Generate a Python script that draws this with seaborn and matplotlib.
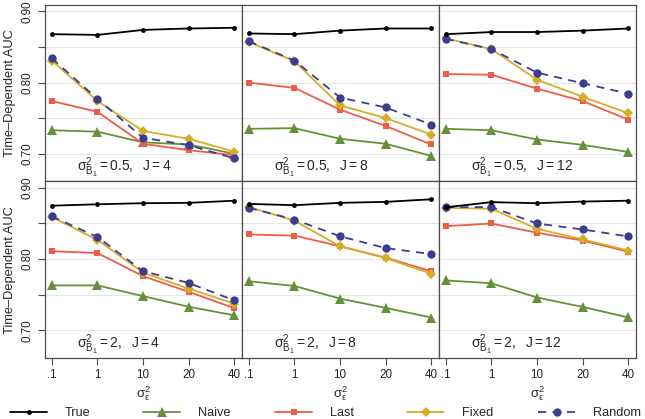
import numpy as np
import pandas as pd
import matplotlib
matplotlib.use("Agg")
import matplotlib.pyplot as plt
import seaborn as sns
from matplotlib.lines import Line2D

sns.set_theme(style="white")
plt.rcParams.update({
    "font.family": ["Liberation Sans", "DejaVu Sans"],
    "mathtext.fontset": "custom",
    "mathtext.rm": "Liberation Sans",
    "mathtext.it": "Liberation Sans:italic",
    "mathtext.default": "regular",
})

# data: one list per panel (row 1: sigma_B1^2 = 0.5, row 2: sigma_B1^2 = 2; columns J = 4, 8, 12)
sigma_eps = [".1", "1", "10", "20", "40"]
sigma_b = ["0.5", "0.5", "0.5", "2", "2", "2"]
n_obs = [4, 8, 12, 4, 8, 12]

auc_true = [
    [0.868, 0.867, 0.874, 0.876, 0.877],
    [0.869, 0.868, 0.873, 0.876, 0.876],
    [0.868, 0.871, 0.871, 0.873, 0.876],
    [0.875, 0.877, 0.8785, 0.879, 0.882],
    [0.8775, 0.8757, 0.879, 0.8804, 0.884],
    [0.8728, 0.880, 0.8785, 0.8808, 0.882],
]
auc_naive = [
    [0.733, 0.731, 0.716, 0.713, 0.700],
    [0.735, 0.736, 0.721, 0.714, 0.697],
    [0.735, 0.733, 0.720, 0.7125, 0.7025],
    [0.763, 0.763, 0.748, 0.733, 0.721],
    [0.7688, 0.7622, 0.7445, 0.7314, 0.7179],
    [0.770, 0.766, 0.746, 0.7328, 0.718],
]
auc_last = [
    [0.774, 0.759, 0.714, 0.705, 0.698],
    [0.800, 0.7925, 0.762, 0.739, 0.713],
    [0.812, 0.811, 0.7915, 0.774, 0.748],
    [0.811, 0.8085, 0.776, 0.754, 0.731],
    [0.8346, 0.833, 0.818, 0.802, 0.7828],
    [0.8462, 0.850, 0.837, 0.826, 0.8104],
]
auc_fixed = [
    [0.831, 0.774, 0.732, 0.721, 0.703],
    [0.857, 0.830, 0.768, 0.750, 0.727],
    [0.862, 0.847, 0.804, 0.780, 0.757],
    [0.859, 0.827, 0.781, 0.7585, 0.7375],
    [0.873, 0.854, 0.818, 0.8014, 0.7795],
    [0.872, 0.8706, 0.8426, 0.8276, 0.812],
]
auc_random = [
    [0.834, 0.777, 0.7225, 0.712, 0.6935],
    [0.858, 0.831, 0.779, 0.765, 0.741],
    [0.8615, 0.847, 0.814, 0.799, 0.7845],
    [0.860, 0.831, 0.783, 0.7664, 0.742],
    [0.872, 0.8556, 0.832, 0.8154, 0.807],
    [0.873, 0.873, 0.850, 0.8416, 0.8318],
]

methods = ["True", "Naive", "Last", "Fixed", "Random"]
series = {"True": auc_true, "Naive": auc_naive, "Last": auc_last,
          "Fixed": auc_fixed, "Random": auc_random}

styles = {
    "Naive":  dict(color="#66913A", marker="^", ms=6.5, ls="-"),
    "Last":   dict(color="#EE5D48", marker="s", ms=5.0, ls="-"),
    "Fixed":  dict(color="#D4AE28", marker="D", ms=5.0, ls="-"),
    "Random": dict(color="#3D3D90", marker="o", ms=6.0, ls=(0, (4.5, 3.5))),
    "True":   dict(color="black", marker="o", ms=3.5, ls="-"),
}
draw_order = ["Naive", "Last", "Fixed", "Random", "True"]

fig, axes = plt.subplots(2, 3, figsize=(6.45, 4.19), dpi=100, sharex=True, sharey=True)
fig.subplots_adjust(left=45 / 645, right=636 / 645, top=1 - 5 / 419,
                    bottom=1 - 358 / 419, wspace=0, hspace=0)

xpos = np.arange(len(sigma_eps))
frame_col = "#4d4d4d"

for i, ax in enumerate(axes.flat):
    for m in draw_order:
        st = styles[m]
        sns.lineplot(x=xpos, y=series[m][i], ax=ax, color=st["color"],
                     marker=st["marker"], markersize=st["ms"], linestyle=st["ls"],
                     linewidth=1.3, markeredgecolor=st["color"], markeredgewidth=0,
                     legend=False)
    ax.set_xlim(-0.15, 4.17)
    ax.set_ylim(0.661, 0.909)
    ax.set_xticks(xpos)
    ax.set_yticks([0.70, 0.75, 0.80, 0.85, 0.90])
    ax.grid(axis="y", color="#e6e6e6", linewidth=0.8)
    ax.set_axisbelow(True)
    for sp in ax.spines.values():
        sp.set_color(frame_col)
        sp.set_linewidth(0.9)
    ax.text(0.16, 0.055,
            r"$\sigma^2_{B_1} = %s,\ \ J = %d$" % (sigma_b[i], n_obs[i]),
            transform=ax.transAxes, fontsize=10, va="baseline", ha="left")
    ax.set_xlabel("")
    ax.set_ylabel("")
    row, col = divmod(i, 3)
    ax.tick_params(axis="both", which="both", left=False, bottom=False,
                   labelleft=False, labelbottom=False)
    if col == 0:
        ax.tick_params(axis="y", left=True, length=5, width=0.8, color=frame_col,
                       direction="out", labelleft=True, labelsize=8.4, pad=3)
        ax.set_yticklabels(["0.70", "", "0.80", "", "0.90"], rotation=90, va="center")
        ax.set_ylabel("Time\u2013Dependent AUC", fontsize=9.3)
        ax.yaxis.set_label_coords(-0.145, 0.5)
    if row == 1:
        ax.tick_params(axis="x", bottom=True, length=5, width=0.8, color=frame_col,
                       direction="out", labelbottom=True, labelsize=8.4, pad=3)
        ax.set_xticklabels(sigma_eps)
        ax.set_xlabel(r"$\sigma^2_\varepsilon$", fontsize=9.5)
        ax.xaxis.set_label_coords(0.5, -0.147)
        ax.xaxis.label.set_va("top")

# legend row: entries evenly spaced along the bottom
legend_x = [10, 143, 275, 407, 538]
for m, lx in zip(methods, legend_x):
    st = styles[m]
    h = Line2D([], [], color=st["color"], marker=st["marker"], markersize=st["ms"],
               linestyle=st["ls"], linewidth=1.3, markeredgewidth=0)
    fig.legend(handles=[h], labels=[m], loc="center left",
               bbox_to_anchor=(lx / 645, 1 - 413 / 419), frameon=False,
               borderpad=0, borderaxespad=0, handlelength=2.9, handletextpad=1.4,
               numpoints=1, fontsize=9.2)

fig.savefig("out.png", dpi=100)
